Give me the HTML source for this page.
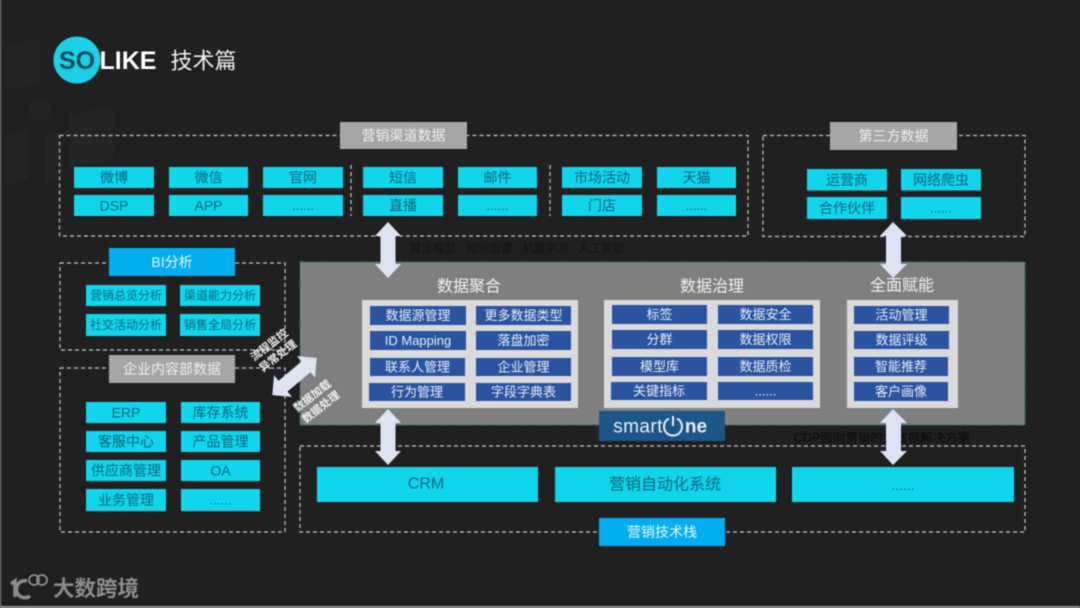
<!DOCTYPE html>
<html><head><meta charset="utf-8"><style>
html,body{margin:0;padding:0;background:#202020;width:1080px;height:608px;overflow:hidden}
svg{display:block;filter:blur(.5px)}
text{font-family:"Liberation Sans","Noto Sans CJK SC",sans-serif;text-anchor:middle;dominant-baseline:central}
.c rect{fill:#0fd6ec}
.c text{fill:#0c6580;font-size:14px}
.b rect{fill:#2a549f}
.b text{fill:#e6ecf6;font-size:13px}
.d{fill:none;stroke:#c4c4c4;stroke-width:1.2;stroke-dasharray:4 3}
.g rect{fill:#a6a6a6}
.g text{fill:#eee;font-size:14px}
.s rect{fill:#02aeef}
.s text{fill:#e8f8ff;font-size:14px}
.a{fill:#dde3f3}
</style></head><body>
<svg width="1080" height="608" viewBox="0 0 1080 608" xmlns="http://www.w3.org/2000/svg">
<rect width="1080" height="608" fill="#202020"/>
<g fill="#242424">
<polygon points="5,45 40,38 40,85 5,90"/><polygon points="70,115 113,105 113,160 70,170"/><circle cx="40" cy="110" r="11"/>
<polygon points="5,135 28,130 28,180 5,185"/><polygon points="45,135 58,130 58,180 45,185"/>
</g>
<rect x="0" y="0" width="1" height="608" fill="#8a8a8a"/>
<rect x="0" y="606" width="1080" height="2" fill="#9a9a9a"/>

<!-- logo -->
<circle cx="77" cy="60" r="23.5" fill="#1bd0e6"/>
<text x="77" y="61" fill="#0d4f62" style="font-size:25px;font-weight:700">SO</text>
<text x="128" y="61" fill="#fff" style="font-size:25px;font-weight:700">LIKE</text>
<text x="203.5" y="61" fill="#eee" style="font-size:22px">技术篇</text>

<!-- main gray -->
<rect x="300" y="262" width="725" height="163" fill="#7f7f7f" stroke="#2f6f78" stroke-width="1.2" stroke-dasharray="3 2"/>

<!-- dashed containers -->
<rect class="d" x="59.5" y="135.5" width="688.5" height="100.5"/>
<rect class="d" x="763" y="135.5" width="262" height="101"/>
<rect class="d" x="60" y="263" width="225" height="87"/>
<rect class="d" x="60" y="368" width="225" height="164"/>
<rect class="d" x="300" y="446" width="725" height="86"/>
<line class="d" x1="351" y1="165" x2="351" y2="216"/>
<line class="d" x1="550" y1="165" x2="550" y2="216"/>

<!-- titles -->
<g class="g">
<rect x="340" y="122" width="127" height="27"/><text x="403.5" y="135.5">营销渠道数据</text>
<rect x="830" y="122" width="127" height="28"/><text x="893.5" y="136">第三方数据</text>
<rect x="109" y="355" width="126" height="28"/><text x="172" y="369">企业内容部数据</text>
</g>
<g class="s">
<rect x="109" y="248" width="126" height="28"/><text x="172" y="262">BI分析</text>
<rect x="599" y="518" width="126" height="28"/><text x="662" y="532">营销技术栈</text>
</g>

<!-- channel items -->
<g class="c">
<rect x="74" y="167" width="80" height="21"/><text x="114" y="177.5">微博</text>
<rect x="169" y="167" width="79" height="21"/><text x="208.5" y="177.5">微信</text>
<rect x="263" y="167" width="80" height="21"/><text x="303" y="177.5">官网</text>
<rect x="74" y="195" width="80" height="21"/><text x="114" y="205.5">DSP</text>
<rect x="169" y="195" width="79" height="21"/><text x="208.5" y="205.5">APP</text>
<rect x="263" y="195" width="80" height="21"/><text x="303" y="205.5" style="font-size:13px">......</text>
<rect x="363" y="167" width="80" height="21"/><text x="403" y="177.5">短信</text>
<rect x="458" y="167" width="79" height="21"/><text x="497.5" y="177.5">邮件</text>
<rect x="363" y="195" width="80" height="21"/><text x="403" y="205.5">直播</text>
<rect x="458" y="195" width="79" height="21"/><text x="497.5" y="205.5" style="font-size:13px">......</text>
<rect x="562" y="167" width="80" height="21"/><text x="602" y="177.5">市场活动</text>
<rect x="657" y="167" width="79" height="21"/><text x="696.5" y="177.5">天猫</text>
<rect x="562" y="195" width="80" height="21"/><text x="602" y="205.5">门店</text>
<rect x="657" y="195" width="79" height="21"/><text x="696.5" y="205.5" style="font-size:13px">......</text>

<rect x="807" y="169" width="80" height="21.5"/><text x="847" y="180">运营商</text>
<rect x="901" y="169" width="80" height="21.5"/><text x="941" y="180">网络爬虫</text>
<rect x="807" y="197" width="80" height="22"/><text x="847" y="208">合作伙伴</text>
<rect x="901" y="197" width="80" height="22"/><text x="941" y="208" style="font-size:13px">......</text>

<rect x="86" y="285" width="80" height="21"/><text x="126" y="295.5" style="font-size:12px">营销总览分析</text>
<rect x="180" y="285" width="80" height="21"/><text x="220" y="295.5" style="font-size:12px">渠道能力分析</text>
<rect x="86" y="314" width="80" height="22"/><text x="126" y="325" style="font-size:12px">社交活动分析</text>
<rect x="180" y="314" width="80" height="22"/><text x="220" y="325" style="font-size:12px">销售全局分析</text>

<rect x="86" y="402" width="80" height="21"/><text x="126" y="412.5">ERP</text>
<rect x="181" y="402" width="79" height="21"/><text x="220.5" y="412.5">库存系统</text>
<rect x="86" y="431" width="80" height="21"/><text x="126" y="441.5">客服中心</text>
<rect x="181" y="431" width="79" height="21"/><text x="220.5" y="441.5">产品管理</text>
<rect x="86" y="460" width="80" height="21"/><text x="126" y="470.5">供应商管理</text>
<rect x="181" y="460" width="79" height="21"/><text x="220.5" y="470.5">OA</text>
<rect x="86" y="489" width="80" height="22"/><text x="126" y="500">业务管理</text>
<rect x="181" y="489" width="79" height="22"/><text x="220.5" y="500" style="font-size:13px">......</text>

<rect x="317" y="467" width="221" height="35"/><text x="426" y="484" style="font-size:16px">CRM</text>
<rect x="555" y="467" width="221" height="35"/><text x="665" y="485" style="font-size:16px">营销自动化系统</text>
<rect x="792" y="467" width="222" height="35"/><text x="903" y="485" style="font-size:14px">......</text>
</g>

<!-- core panels -->
<text x="469" y="287" fill="#f2f2f2" style="font-size:16px">数据聚合</text>
<text x="712" y="287" fill="#f2f2f2" style="font-size:16px">数据治理</text>
<text x="902" y="286" fill="#f2f2f2" style="font-size:16px">全面赋能</text>
<rect x="362" y="300" width="216" height="108" fill="#dadada"/>
<rect x="604" y="300" width="216" height="108" fill="#dadada"/>
<rect x="847" y="300" width="111" height="108" fill="#dadada"/>
<g class="b">
<rect x="370" y="306" width="96" height="19"/><text x="418" y="315.5">数据源管理</text>
<rect x="476" y="306" width="95" height="19"/><text x="523.5" y="315.5">更多数据类型</text>
<rect x="370" y="331" width="96" height="19"/><text x="418" y="340.5">ID Mapping</text>
<rect x="476" y="331" width="95" height="19"/><text x="523.5" y="340.5">落盘加密</text>
<rect x="370" y="358" width="95" height="18"/><text x="417.5" y="367">联系人管理</text>
<rect x="476" y="358" width="95" height="18"/><text x="523.5" y="367">企业管理</text>
<rect x="369" y="383" width="96" height="18"/><text x="417" y="392">行为管理</text>
<rect x="476" y="383" width="95" height="18"/><text x="523.5" y="392">字段字典表</text>

<rect x="612" y="305" width="95" height="19"/><text x="659.5" y="314.5">标签</text>
<rect x="718" y="305" width="95" height="19"/><text x="765.5" y="314.5">数据安全</text>
<rect x="612" y="330" width="95" height="19"/><text x="659.5" y="339.5">分群</text>
<rect x="718" y="330" width="95" height="19"/><text x="765.5" y="339.5">数据权限</text>
<rect x="612" y="357" width="95" height="19"/><text x="659.5" y="366.5">模型库</text>
<rect x="718" y="357" width="95" height="19"/><text x="765.5" y="366.5">数据质检</text>
<rect x="611" y="382" width="96" height="18"/><text x="659" y="391">关键指标</text>
<rect x="718" y="382" width="95" height="18"/><text x="765.5" y="391">......</text>

<rect x="854" y="306" width="95" height="18"/><text x="901.5" y="315">活动管理</text>
<rect x="854" y="331" width="95" height="18"/><text x="901.5" y="340">数据评级</text>
<rect x="854" y="357" width="94" height="19"/><text x="901" y="366.5">智能推荐</text>
<rect x="854" y="382" width="94" height="19"/><text x="901" y="391.5">客户画像</text>
</g>

<!-- faint dark text -->
<text x="517" y="249" fill="#121212" style="font-size:11.5px;word-spacing:7px">算法模型 知识图谱 机器学习 人工智能</text>
<text x="882" y="438" fill="#0a0a0a" style="font-size:12.5px">CDP面向营销的大数据解决方案</text>

<!-- smartOne -->
<rect x="599" y="411" width="126" height="30" fill="#1c5688"/>
<text x="638" y="427" fill="#e4eff7" style="font-size:19px;letter-spacing:.4px">smart</text>
<path d="M669 418.5 A9 9 0 1 0 677 418.5" fill="none" stroke="#e4eff7" stroke-width="2"/>
<line x1="673" y1="416" x2="673" y2="426" stroke="#e4eff7" stroke-width="2"/>
<text x="696" y="427" fill="#e4eff7" style="font-size:19px;font-weight:700">ne</text>

<!-- arrows -->
<polygon class="a" points="388,222 401,236 395.5,236 395.5,264 401,264 388,278 375,264 380.5,264 380.5,236 375,236"/>
<polygon class="a" points="893,222 907,236 901,236 901,264 907,264 893,278 880,264 886,264 886,236 880,236"/>
<polygon class="a" points="388,409 401,423 395.5,423 395.5,451 401,451 388,465 375,451 380.5,451 380.5,423 375,423"/>
<polygon class="a" points="893,409 907,423 901,423 901,451 907,451 893,465 880,451 886,451 886,423 880,423"/>
<polygon class="a" transform="translate(294.5,376.5) rotate(50)" points="0,-29 14,-15 7,-15 7,15 14,15 0,29 -14,15 -7,15 -7,-15 -14,-15"/>

<!-- rotated labels -->
<g transform="translate(274,351) rotate(-38)">
<text x="0" y="-7" fill="#f0f0f0" style="font-size:11px;font-weight:700">流程监控</text>
<text x="0" y="7" fill="#f0f0f0" style="font-size:11px;font-weight:700">异常处理</text>
</g>
<g transform="translate(317,402) rotate(-38)">
<text x="0" y="-7" fill="#f0f0f0" style="font-size:11px;font-weight:700">数据加载</text>
<text x="0" y="7" fill="#f0f0f0" style="font-size:11px;font-weight:700">数据处理</text>
</g>

<!-- bottom logo -->
<g fill="none" stroke="#8c8c8c">
<path d="M11 584 L15 581 L15 597" stroke-width="3.5"/>
<path d="M27 581 A8.5 8.5 0 1 0 30 596" stroke-width="3.5"/>
<circle cx="34" cy="580" r="5" stroke-width="1.8"/>
<circle cx="42" cy="580" r="5" stroke-width="1.8"/>
</g>
<text x="96" y="589" fill="#8c8c8c" style="font-size:21.5px;font-weight:700">大数跨境</text>
</svg>
</body></html>
